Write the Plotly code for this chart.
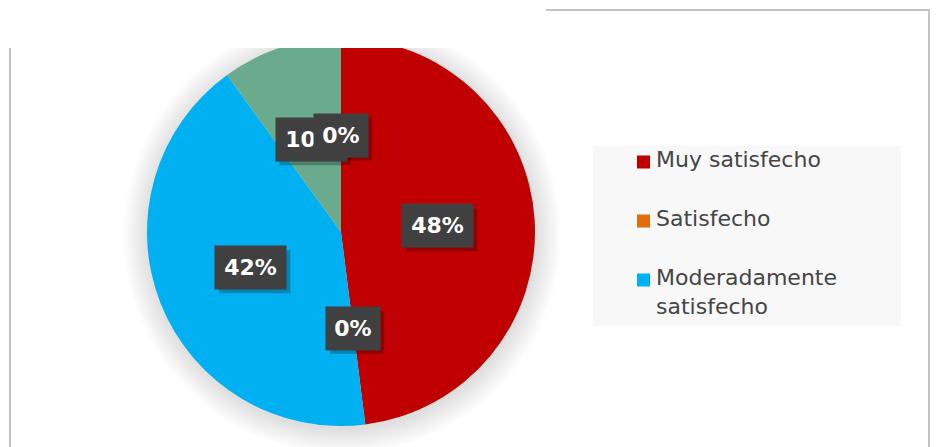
import plotly.graph_objects as go
import math

# Survey results: satisfaction levels (percent)
categories = ["Muy satisfecho", "Satisfecho", "Moderadamente satisfecho",
              "Poco satisfecho", "Insatisfecho"]
values = [48, 0, 42, 10, 0]
colors = ["#C00000", "#E46C0A", "#00B0F0", "#6AAB8E", "#7F7F7F"]
legend_count = 3  # entries visible in the legend box

W, H = 937, 447
cx, cy, R = 341, 232, 194  # pie centre / radius in pixels


def px(x):
    return x / W


def py(y):
    return 1 - y / H


fig = go.Figure()
fig.add_trace(go.Pie(
    labels=categories, values=values, sort=False, direction="clockwise",
    rotation=0, marker=dict(colors=colors, line=dict(width=0)),
    textinfo="none", showlegend=False,
    domain=dict(x=[px(cx - R), px(cx + R)], y=[py(cy + R), py(cy - R)]),
))

shapes = []
# chart frame
shapes.append(dict(type="rect", xref="paper", yref="paper", layer="below",
                   x0=px(10), x1=px(929), y0=py(480), y1=py(10),
                   line=dict(color="#C3C3C3", width=2), fillcolor="rgba(0,0,0,0)"))
# soft shadow around the pie
for k in range(16):
    r = R + 1 + k * 1.6
    sx, sy = cx + 1, cy + 3
    shapes.append(dict(type="circle", xref="paper", yref="paper", layer="below",
                       x0=px(sx - r), x1=px(sx + r), y0=py(sy + r), y1=py(sy - r),
                       line=dict(width=0), fillcolor="rgba(0,0,0,0.009)"))
# legend background
shapes.append(dict(type="rect", xref="paper", yref="paper", layer="below",
                   x0=px(593), x1=px(901), y0=py(326), y1=py(146),
                   line=dict(width=0), fillcolor="#F8F8F8"))
# white band across the top-left
shapes.append(dict(type="rect", xref="paper", yref="paper", layer="above",
                   x0=px(-2), x1=px(546), y0=py(48), y1=py(-2),
                   line=dict(width=0), fillcolor="white"))

annotations = []
# legend squares and labels
legend_y = [162, 221, 280]
for i in range(legend_count):
    yc = legend_y[i]
    shapes.append(dict(type="rect", xref="paper", yref="paper", layer="above",
                       x0=px(637), x1=px(650), y0=py(yc + 6.5), y1=py(yc - 6.5),
                       line=dict(width=0), fillcolor=colors[i]))
    name = categories[i]
    if len(name) > 16:
        name = name.replace(" ", "<br>", 1)
    annotations.append(dict(xref="paper", yref="paper", x=px(654), y=py(yc - 17),
                            xanchor="left", yanchor="top", align="left",
                            text=name, showarrow=False,
                            font=dict(family="DejaVu Sans", size=22, color="#454545")))

# data labels in dark boxes, halfway along each slice's mid-angle
pad = 8
total = sum(values)
cum = 0
for v in values:
    theta = math.radians((cum + v / 2) / total * 360)
    cum += v
    lx = cx + 0.5 * R * math.sin(theta)
    ly = cy - 0.5 * R * math.cos(theta)
    text = f"{v}%"
    bw = 17 * len(text) + 4
    bh = 27
    # drop shadow behind the box
    hw, hh = bw / 2 + pad, bh / 2 + pad
    shapes.append(dict(type="rect", xref="paper", yref="paper", layer="above",
                       x0=px(lx - hw + 4), x1=px(lx + hw + 4),
                       y0=py(ly + hh + 4), y1=py(ly - hh + 4),
                       line=dict(width=0), fillcolor="rgba(0,0,0,0.25)"))
    annotations.append(dict(xref="paper", yref="paper", x=px(lx), y=py(ly),
                            xanchor="center", yanchor="middle", text=f"<b>{text}</b>",
                            width=bw, height=bh, showarrow=False,
                            bgcolor="#404040", borderpad=pad,
                            font=dict(family="DejaVu Sans", size=22, color="white")))

fig.update_layout(
    width=W, height=H, margin=dict(l=0, r=0, t=0, b=0),
    paper_bgcolor="white", plot_bgcolor="rgba(0,0,0,0)",
    shapes=shapes, annotations=annotations, showlegend=False,
)

fig.write_html("out.html")
